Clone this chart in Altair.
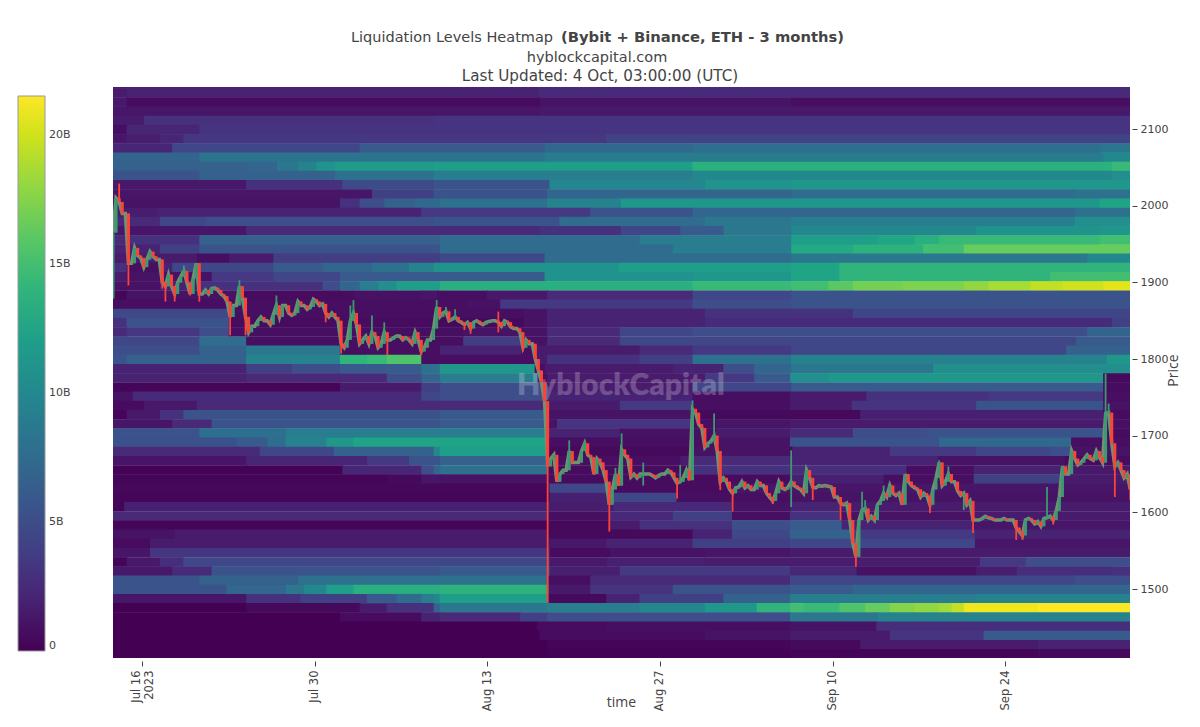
import altair as alt
import pandas as pd

alt.data_transformers.disable_max_rows()

START = pd.Timestamp("2023-07-13 15:30")
END = pd.Timestamp("2023-10-04 03:00")

# Liquidation bands, top to bottom: (day since start, level in billions)
row_top = [(0,1.5),(1.1,2),(34.5,2.6)]
row_00 = [(0,1.5),(1.1,2),(34.5,2.6)]
row_01 = [(0,1.4),(1.1,0.6),(34.6,1),(55,0.7)]
row_02 = [(0,1.2),(34.6,1.4)]
row_03 = [(0,1.5),(2.5,2.9),(26,3.2)]
row_04 = [(0,0.8),(1.1,2.2),(7,3.2)]
row_05 = [(0,1.2),(1.1,1.7),(3.8,2.2),(5.7,3.4),(40,4.2)]
row_06 = [(0,2.2),(4.8,4.5),(20,6),(35,7.2),(47,7.7),(80,8.3)]
row_07 = [(0,6.8),(7,8.2),(35,8.8),(80.3,10)]
row_08 = [(0,6.5),(11,7),(13.3,8.5),(15,9.5),(16.5,11),(18,11.7),(26,12),(47,13.7),(81,14.5)]
row_09 = [(0,5.5),(7,6.5),(18,8),(26,9),(47,10),(81,10.5)]
row_10 = [(0,1.3),(10.8,3),(18.6,4.8),(26,5.5),(35.4,9.8),(48,11),(55,11.5)]
row_11 = [(0,1.2),(21,4),(26,5.5),(35.2,7),(55,7.5),(78,8)]
row_12 = [(0,1),(18.4,3),(20,5),(22,6.5),(24.5,7.3),(26.5,8),(35.2,9.5),(41.2,11.5),(80,12.5)]
row_13 = [(0,1.6),(3.6,2),(25,3.5),(38.7,5.5),(47,7),(78,8)]
row_14 = [(0,2.5),(3.8,4.5),(7.5,5),(26,5.5),(36.2,7.5),(48,8.5),(55,9),(78,10.5)]
row_15 = [(0,1.2),(10.8,2.5),(34.6,3),(41.2,4.5),(46,6),(49.5,8.5),(55,10),(70,11),(80,11.5)]
row_16 = [(0,2.5),(1.1,3),(7,6.5),(26.5,7.5),(42.7,9),(55,12),(62,12.7),(65,13.5),(67,14.5),(80,15)]
row_17 = [(0,2),(3.8,4),(7,5.5),(26.5,7.5),(45.4,9),(55,13),(60,13.8),(65.7,15),(69,16.5)]
row_18 = [(0,1.5),(6.8,0.8),(9.4,1.5),(13,3.8),(26.5,4.5),(35,7.5),(55,8.5),(79,10)]
row_19 = [(0,3),(1.1,0.8),(3.8,2),(4.8,4.5),(13,6),(17,7),(21,8),(24,9.5),(26,11),(41,12),(55,12.5),(58.9,14)]
row_20 = [(0,1.5),(1.1,1),(8,3.5),(13,4.5),(18.4,6),(35,11),(47,11.5),(55,12.5),(58.9,14),(76,15)]
row_21 = [(0,0.9),(3.8,1.8),(7,3),(17,5),(18.4,7),(20,9),(21.5,10.5),(23,12),(26.5,13.5),(47,14.5),(55,15),(58,16),(60,17),(64,17.3),(69,18),(71,18.7),(74.4,19.5),(77,20),(80.3,20.6)]
row_22 = [(0,0.3),(1.1,1),(10.3,0.6),(19.5,0.9),(25,1.2),(26.3,0.8),(30.3,1.4),(35.2,2.5),(47,4.5),(55,5.5)]
row_23 = [(0,0.7),(28.7,0.9),(31.4,3.5),(47,5),(55,5.5)]
row_24 = [(0,4.6),(9.4,0.8),(33.3,1),(35.2,2),(48,3),(60,4.4)]
row_25 = [(0,3),(1.1,5.5),(9.4,0.6),(26,0.5),(33.3,1),(35.2,2),(48,2.6),(81,4)]
row_26 = [(0,2.5),(1.1,3.4),(7,5),(9.4,0.8),(28.4,1),(35.2,2.5),(41.1,4.5),(47,5),(79,6.8)]
row_27 = [(0,4.5),(7,7.5),(10.8,0.8),(28.4,3.8),(33.1,0.9),(35.2,2.5),(41.1,4.5),(78.1,6)]
row_28 = [(0,5),(7,6.5),(10.8,8.5),(18.4,0.7),(26.5,2),(33.1,0.8),(34.3,1.5),(42.7,2.5),(47,3.5),(55,4.5),(77.3,6.5)]
row_29 = [(0,5.5),(1.1,6.5),(10.8,9.5),(18.4,14),(20.6,14.5),(22.2,15.5),(25,0.7),(34.3,1.5),(35.2,3),(42.7,4),(47,8),(55,9.5),(80.6,11.5)]
row_30 = [(0,2),(10.8,4),(14.5,5),(18.4,6),(25,8),(26.5,11.5),(34.2,0.7),(35,1.5),(45.4,2),(49.5,5),(52,7),(55,8.5),(66.5,10.5)]
row_31 = [(0,2),(10.8,2.5),(22.2,5),(25,7),(26.5,9),(34.4,0.7),(35.2,1.5),(48,3.5),(52,6),(54.9,10.5),(58,11.5),(80.3,0.5)]
row_32 = [(0,0.3),(18.4,1.5),(25,4),(26.5,5),(35.2,1.5),(47,4.5),(55,6),(80.3,0.6)]
row_33 = [(0,1),(1.6,2.6),(25,4.5),(26.5,5),(35.2,2),(47,0.8),(54.9,1.5),(61.1,3),(71,3.5),(80.3,0.7)]
row_34 = [(0,0.6),(2.5,1.4),(6.8,2.5),(35.2,1.5),(41.1,3.5),(47,0.7),(54.9,1.5),(59.9,3.2),(70,5.5),(80.3,0.9)]
row_35 = [(0,0.2),(1.1,1.4),(3.8,3),(5.7,5.5),(26.5,6),(35.2,1),(47,0.5),(60.6,1.8),(80.3,0.6)]
row_36 = [(0,1.2),(4.8,2.5),(8,5.5),(26.5,6),(35.2,1),(36,3.2),(47,0.7),(48.9,1.2),(54.9,1.5),(80.3,0.8)]
row_37 = [(0,5.5),(7,7.8),(14,9),(35.2,2),(41.1,0.9),(47,0.7),(48.9,1.5),(54.9,2.5),(60,5),(66,5.5),(80.3,0.6)]
row_38 = [(0,5.3),(10,6),(12.5,7.5),(14,9.5),(17.3,11.5),(19.5,12.5),(35.2,0.7),(48.9,1),(54.9,5.5),(67,7.2),(77.7,0.7)]
row_39 = [(0,2.5),(11.9,4.5),(17.9,6.5),(26,10),(26.5,12),(35.2,0.5),(47,1),(54.9,0.5),(55.1,2),(63,3.5),(70,4.5),(76,5),(77.7,1)]
row_40 = [(0,1.1),(10.8,2.2),(20.6,3.5),(24,5.5),(26.5,6.5),(35.2,0.7),(46,1.5),(47,2.5),(54.9,2),(66.9,1),(77.2,0.6)]
row_41 = [(0,0.1),(18.6,2.2),(25,5),(26,7),(26.5,8),(35.2,0.6),(47,3),(54.9,2.8),(64.35,0.7),(69.8,2),(76.8,1.3)]
row_42 = [(0,0.2),(22.2,0.5),(25,1.2),(26.5,1),(35.2,0.6),(54.9,1.8),(62.5,0.8),(69.8,4),(76.8,1.5)]
row_43 = [(0,0.4),(35.4,4.5),(40,0.6),(50,1.2)]
row_44 = [(0,0.3),(35.4,1.8),(40.6,4.5),(45.7,0.8),(54.9,1)]
row_45 = [(0,0.3),(0.9,1.8),(35.4,1.6),(40.6,2.4),(50.15,1),(54.9,2),(58.9,1.5)]
row_46 = [(0,2.5),(35.3,0.8),(40.3,2.4),(45.4,4),(50.2,0.8),(54.9,3),(58.9,1),(69.8,1.5)]
row_47 = [(0,0.3),(35.3,0.4),(40.3,1.5),(42.7,3),(50.2,5),(54.9,6),(59.1,2),(69.8,1.2)]
row_48 = [(0,1),(5,1.5),(35.3,0.5),(47,2),(50.2,4.5),(54.9,6.5),(60,3.5),(69.9,2)]
row_49 = [(0,0.6),(3,1.5),(35.3,1.3),(40,2),(47,4),(54.9,4.5),(69.9,1.2)]
row_50 = [(0,1.2),(3,3.3),(35.4,0.6),(40.3,1),(48,1.2),(54.9,1.5)]
row_51 = [(0,0.2),(1.1,1.4),(3.8,2.8),(5.7,4.5),(35.4,1.4),(40,1.8),(48,1.6),(70.3,3.5),(74,5)]
row_52 = [(0,1.3),(4.8,2.6),(8,5.5),(26.5,6),(35.4,1.8),(41.1,3.5),(54.9,2.3),(60.3,0.9),(70,1.7),(73.3,2.8),(81,3)]
row_53 = [(0,5.5),(7,6.5),(15,8),(35.3,0.8),(38.7,2.5),(54.9,4.5),(78,5)]
row_54 = [(0,5.5),(9.2,7),(14,8.5),(15.5,10),(17.3,12),(19.5,13.5),(26.5,13.8),(35.3,1.4),(38.7,3.2),(45.4,5.5),(54.9,6),(60,7)]
row_55 = [(0,1.2),(10.8,3),(15.2,4),(20.6,6),(23,7.5),(25,9),(26,10),(26.5,12),(35.3,0.5),(40,2),(42.7,4),(49.5,6.5),(54.9,9),(70,9.5)]
row_56 = [(0,0),(10.8,0.5),(20,1.5),(22.2,3),(26,6.5),(26.5,8.5),(35.2,9),(42.7,10),(48,11.5),(52.2,14),(54.9,15),(56,14.5),(58.9,15.5),(61,16.5),(63,17.5),(65,18),(67,18.5),(68,19.5),(69,21),(75,21.5)]
row_57 = [(0,0),(18.4,0.6),(25,2),(26.5,2.5),(33,4),(35.2,5),(54.9,8.5),(62,9.5)]
row_58 = [(0,0),(34.4,0.6),(40,0.8),(54.9,1),(61.9,2.8)]
row_59 = [(0,0),(34.6,0.6),(48,1),(54.9,1.5),(63,3.2),(70.6,6)]
row_60 = [(0,0),(35.2,0.3),(54.9,0.5),(60.6,1.5),(75,2)]
row_61 = [(0,0),(35.2,0.1),(54.9,0.2),(75,0.5)]

rows = [row_top,
        row_00,row_01,row_02,row_03,row_04,row_05,row_06,row_07,row_08,row_09,
        row_10,row_11,row_12,row_13,row_14,row_15,row_16,row_17,row_18,row_19,
        row_20,row_21,row_22,row_23,row_24,row_25,row_26,row_27,row_28,row_29,
        row_30,row_31,row_32,row_33,row_34,row_35,row_36,row_37,row_38,row_39,
        row_40,row_41,row_42,row_43,row_44,row_45,row_46,row_47,row_48,row_49,
        row_50,row_51,row_52,row_53,row_54,row_55,row_56,row_57,row_58,row_59,
        row_60,row_61]

BAND_BOTTOM = 1409
BAND_SIZE = 12
LAST_DAY = 82.48
SEAM_PRICE = 0.6
SEAM_DAYS = 0.08

# Price closes every six hours
closes = [
 1965,2010,2005,1990,1990,1925,1925,1945,1935,1932,1920,1930,1940,1934,1930,1930,1900,1895,1910,1895,
 1885,1900,1908,1915,1900,1885,1905,1925,1885,1885,1890,1885,1892,1893,1890,1885,1882,1875,1855,1870,
 1870,1895,1880,1855,1835,1843,1843,1850,1855,1850,1850,1845,1858,1870,1855,1870,1870,1860,1857,1860,
 1875,1870,1870,1865,1868,1878,1875,1870,1872,1860,1855,1860,1855,1850,1820,1815,1825,1850,1860,1845,
 1820,1825,1830,1820,1835,1830,1815,1820,1835,1825,1825,1828,1830,1830,1825,1828,1825,1820,1835,1825,
 1810,1815,1825,1825,1840,1868,1855,1860,1862,1850,1852,1855,1850,1848,1845,1848,1840,1848,1850,1847,
 1845,1848,1849,1850,1850,1848,1843,1850,1848,1842,1840,1840,1835,1815,1825,1820,1820,1800,1785,1770,
 1745,1660,1670,1675,1640,1650,1655,1655,1680,1665,1665,1665,1680,1690,1675,1672,1650,1670,1665,1655,
 1640,1610,1630,1650,1635,1682,1675,1670,1646,1650,1645,1650,1650,1650,1650,1648,1645,1648,1650,1650,
 1655,1652,1645,1638,1640,1645,1655,1642,1735,1730,1715,1710,1685,1690,1693,1700,1680,1640,1645,1640,
 1630,1625,1632,1633,1640,1632,1635,1630,1630,1640,1635,1635,1625,1620,1615,1625,1640,1632,1630,1633,
 1640,1635,1632,1630,1625,1655,1645,1633,1632,1635,1634,1635,1634,1633,1620,1620,1612,1610,1612,1590,
 1560,1542,1590,1603,1605,1590,1595,1590,1610,1615,1625,1620,1635,1625,1622,1625,1610,1650,1640,1635,
 1632,1630,1620,1625,1622,1610,1630,1645,1665,1635,1640,1650,1640,1640,1628,1622,1625,1610,1615,1590,
 1590,1590,1592,1595,1593,1592,1590,1590,1590,1592,1590,1590,1590,1580,1575,1570,1590,1592,1590,1585,
 1588,1582,1592,1593,1595,1590,1602,1620,1660,1650,1650,1680,1670,1662,1665,1670,1675,1670,1668,1680,
 1672,1665,1729,1730,1690,1660,1665,1655,1645,1650,1630,
]
first_open = 1879
high_index = [2,23,41,53,77,78,84,88,105,108,111,125,148,153,163,165,172,184,188,195,220,243,244,250,268,271,303,322,323]
high_price = [2029,1922,1903,1883,1870,1877,1857,1848,1877,1868,1865,1862,1694,1692,1658,1703,1665,1662,1746,1729,1681,1627,1616,1635,1668,1660,1633,1781,1742]
low_index = [5,16,17,20,25,28,38,43,69,74,80,89,100,114,116,125,133,141,156,161,172,183,197,201,214,220,227,236,241,265,276,279,293,295,305,325,330]
low_price = [1896,1892,1875,1875,1883,1875,1831,1831,1848,1807,1820,1805,1805,1838,1833,1835,1810,1482,1649,1575,1635,1618,1629,1601,1611,1607,1616,1590,1529,1599,1603,1573,1564,1564,1584,1620,1616]

TITLE_PLAIN = "Liquidation Levels Heatmap"
TITLE_BOLD = "(Bybit + Binance, ETH - 3 months)"
SUB_ONE = "hyblockcapital.com"
SUB_TWO = "Last Updated: 4 Oct, 03:00:00 (UTC)"
WATERMARK = "HyblockCapital"
price_ticks = [1500,1600,1700,1800,1900,2000,2100]
legend_ticks = [0,5,10,15,20]
date_ticks = [(7,16),(7,30),(8,13),(8,27),(9,10),(9,24)]

day = lambda d: START + pd.Timedelta(days=d)

records = []
for i, segs in enumerate(rows):
    low = BAND_BOTTOM + BAND_SIZE * (len(rows) - 1 - i)
    for j, (d, v) in enumerate(segs):
        d2 = segs[j + 1][0] + SEAM_DAYS if j + 1 < len(segs) else LAST_DAY
        records.append({"t0": day(d), "t1": day(d2), "low": low, "high": low + BAND_SIZE + SEAM_PRICE, "v": v})
heat = pd.DataFrame(records)

highs = dict(zip(high_index, high_price))
lows = dict(zip(low_index, low_price))
cand = []
prev = first_open
for i, c in enumerate(closes):
    o = prev
    cand.append({"t": START + pd.Timedelta(hours=6 * i),
                 "o": o, "c": c,
                 "low": min(o, c, lows.get(i, c)),
                 "high": max(o, c, highs.get(i, c)),
                 "dir": "up" if c >= o else "down"})
    prev = c
cand = pd.DataFrame(cand)

FONT = "DejaVu Sans"
INK = "#444444"

x_axis = alt.Axis(
    values=[alt.DateTime(year=2023, month=m, date=d) for m, d in date_ticks],
    format="%b %d", labelExpr="datum.label == 'Jul 16' ? ['Jul 16', '2023'] : datum.label",
    labelAngle=270, labelAlign="right", labelBaseline="middle", labelFont=FONT, labelFontSize=11.5,
    labelOffset={"condition": {"test": "month(datum.value) == 6 && date(datum.value) == 16", "value": -6}, "value": 0},
    labelColor=INK, tickColor=INK, tickSize=5, offset=3, domain=False, grid=False,
    labelPadding=4, labelOverlap=False, title="time", titleFont="Open Sans", titleFontSize=14,
    titleFontWeight="normal", titleColor=INK, titleY=34, titleX=508, titleAnchor="middle",
)
y_axis = alt.Axis(
    values=price_ticks, format="d", orient="right", labelFont=FONT, labelFontSize=11, labelColor=INK,
    tickColor=INK, tickSize=5, offset=2, domain=False, grid=False, labelPadding=3,
    title="Price", titleFont="Open Sans", titleFontSize=14, titleFontWeight="normal",
    titleColor=INK, titleAngle=270, titleX=48, titleY=283,
)
x_scale = alt.Scale(domain=[START.isoformat(), END.isoformat()])
y_scale = alt.Scale(domain=[1410, 2155], nice=False, zero=False)

heat_layer = alt.Chart(heat).mark_rect(clip=True, strokeWidth=0).encode(
    x=alt.X("t0:T", axis=x_axis, scale=x_scale),
    x2="t1:T",
    y=alt.Y("low:Q", axis=y_axis, scale=y_scale),
    y2="high:Q",
    fill=alt.Fill("v:Q", scale=alt.Scale(scheme="viridis", domain=[0, 21.5]),
                  legend=alt.Legend(orient="none", legendX=-95, legendY=9, title=None,
                                    gradientLength=555, gradientThickness=27,
                                    gradientStrokeColor="#999999", gradientStrokeWidth=1,
                                    values=legend_ticks, labelFont=FONT, labelFontSize=11,
                                    labelColor=INK, labelOverlap=False, labelOffset=4,
                                    labelBaseline="middle",
                                    labelExpr="datum.value == 0 ? '0' : datum.value + 'B'")),
)

def text_layer(value, x, y, align="left", **kw):
    return alt.Chart(pd.DataFrame({"s": [value]})).mark_text(align=align, baseline="alphabetic", **kw).encode(
        x=alt.value(x), y=alt.value(y), text="s:N")

stroke = alt.Stroke("dir:N", scale=alt.Scale(domain=["up", "down"], range=["#3D9970", "#FF4136"]), legend=None)
trail = alt.Chart(cand).mark_line(clip=True, strokeWidth=3.5, color="#6f9272", interpolate="linear").encode(
    x=alt.X("t:T", axis=x_axis, scale=x_scale),
    y=alt.Y("c:Q", axis=y_axis, scale=y_scale))
wick = alt.Chart(cand).mark_rule(clip=True, strokeWidth=1.8).encode(
    x=alt.X("t:T", axis=x_axis, scale=x_scale),
    y=alt.Y("low:Q", axis=y_axis, scale=y_scale), y2="high:Q", stroke=stroke)
body = alt.Chart(cand).mark_rule(clip=True, strokeWidth=3).encode(
    x=alt.X("t:T", axis=x_axis, scale=x_scale),
    y=alt.Y("o:Q", axis=y_axis, scale=y_scale), y2="c:Q", stroke=stroke)

chart = alt.layer(
    heat_layer,
    text_layer(WATERMARK, 508, 308, align="center", font="Lato", fontSize=30, fontWeight=800, color="white", opacity=0.22),
    trail, wick, body,
    text_layer(TITLE_PLAIN, 238, -45, font=FONT, fontSize=14.5, color=INK),
    text_layer(TITLE_BOLD, 448, -45, font=FONT, fontSize=14.75, fontWeight="bold", color=INK),
    text_layer(SUB_ONE, 484, -25, align="center", font=FONT, fontSize=14.5, color=INK),
    text_layer(SUB_TWO, 487, -6, align="center", font=FONT, fontSize=15.2, color=INK),
).properties(
    width=1017, height=571,
    autosize=alt.AutoSizeParams(type="none"),
    padding={"left": 105, "top": 79, "right": 62, "bottom": 60},
).configure_view(stroke=None)

chart.save("out.html", embed_options={"renderer": "svg", "actions": False})
